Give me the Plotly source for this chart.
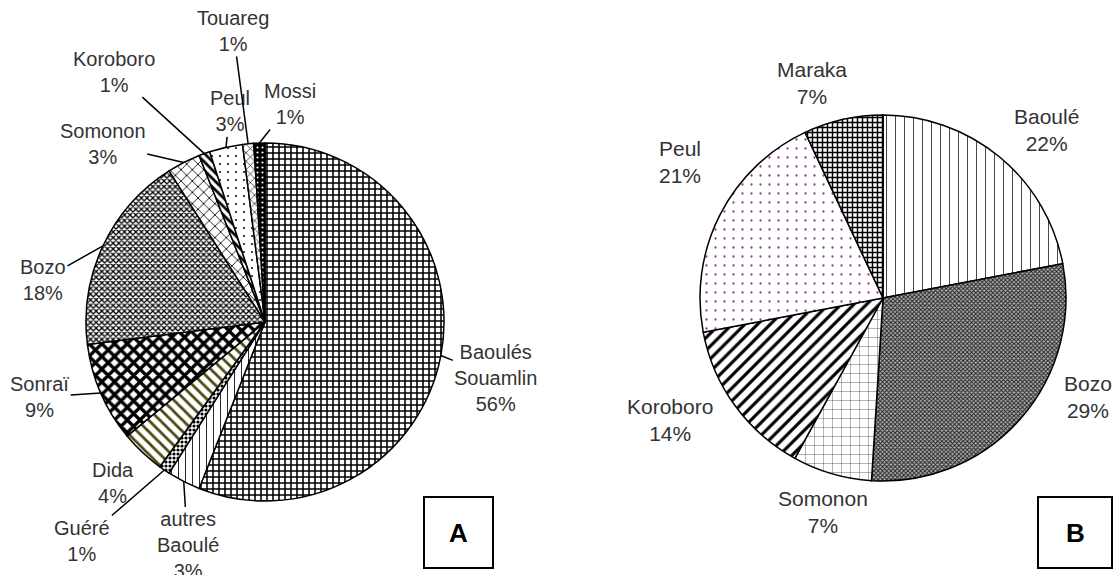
import math
import plotly.graph_objects as go

# ---------- data (percentages) ----------
labels_a = ["Baoulés Souamlin", "autres Baoulé", "Guéré", "Dida", "Sonraï", "Bozo",
            "Somonon", "Koroboro", "Peul", "Touareg", "Mossi"]
values_a = [56, 3, 1, 4, 9, 18, 3, 1, 3, 1, 1]

labels_b = ["Baoulé", "Bozo", "Somonon", "Koroboro", "Peul", "Maraka"]
values_b = [22, 29, 7, 14, 21, 7]

# ---------- geometry (pixels) ----------
W, H = 1120, 575
ca, ra = (265, 322), 179   # pie A centre / radius
cb, rb = (883, 298), 183   # pie B centre / radius


def dom(c, r):
    return dict(x=[(c[0] - r) / W, (c[0] + r) / W],
                y=[1 - (c[1] + r) / H, 1 - (c[1] - r) / H])


def anchor(values, i, c, r):
    # point on the rim at the middle of slice i (clockwise from 12 o'clock)
    mid = (sum(values[:i]) + values[i] / 2) / sum(values) * 2 * math.pi
    return c[0] + r * math.sin(mid), c[1] - r * math.cos(mid)


# hatch styles
pat_a = dict(
    shape=["+", "|", ".", "\\", "x", "x", "x", "\\", ".", "x", "."],
    size=[6, 7, 4, 8, 9, 4, 8, 6, 8, 6, 5],
    solidity=[0.45, 0.12, 0.5, 0.35, 0.6, 0.55, 0.2, 0.45, 0.05, 0.2, 0.15],
    fgcolor=["black", "black", "black", "#4a4a12", "black", "black", "black",
             "black", "black", "black", "white"],
    bgcolor=["white"] * 10 + ["black"],
)
pat_b = dict(
    shape=["|", "x", "+", "/", ".", "+"],
    size=[9, 3, 9, 9, 9, 5],
    solidity=[0.08, 0.55, 0.08, 0.35, 0.05, 0.5],
    fgcolor=["black", "#222222", "#333333", "black", "#993399", "black"],
    bgcolor=["white", "#b0b0b0", "white", "white", "white", "white"],
)

fig = go.Figure()
fig.add_trace(go.Pie(labels=labels_a, values=values_a, domain=dom(ca, ra),
                     sort=False, direction="clockwise", rotation=0,
                     textinfo="none", hoverinfo="label+percent",
                     marker=dict(line=dict(color="black", width=1.5), pattern=pat_a)))
fig.add_trace(go.Pie(labels=labels_b, values=values_b, domain=dom(cb, rb),
                     sort=False, direction="clockwise", rotation=0,
                     textinfo="none", hoverinfo="label+percent",
                     marker=dict(line=dict(color="black", width=1.5), pattern=pat_b)))

fam = "Arial, 'Liberation Sans', sans-serif"
font_a = dict(family=fam, size=20, color="#333333")
font_b = dict(family=fam, size=21, color="#333333")

# label offsets from the rim (pixels) and whether a leader line is drawn
off_a = [(55, 22), (4, 64), (-82, 71), (-29, 31), (-61, 4), (-60, 34),
         (-81, -19), (-90, -82), (4, -36), (-15, -113), (31, -39)]
line_a = [True, True, True, False, True, True, True, True, True, True, True]
off_b = [(47, -27), (68, -22), (-9, 38), (-65, 14), (-40, -53), (-31, -36)]

anns = []
for i, lab in enumerate(labels_a):
    px_, py_ = anchor(values_a, i, ca, ra)
    anns.append(dict(x=px_ / W, y=1 - py_ / H, xref="paper", yref="paper",
                     ax=off_a[i][0], ay=off_a[i][1],
                     text=lab.replace(" ", "<br>") + "<br>%d%%" % values_a[i],
                     showarrow=True, arrowhead=0, arrowwidth=1.5, standoff=0,
                     arrowcolor="black" if line_a[i] else "rgba(0,0,0,0)",
                     font=font_a))
for i, lab in enumerate(labels_b):
    px_, py_ = anchor(values_b, i, cb, rb)
    anns.append(dict(x=px_ / W, y=1 - py_ / H, xref="paper", yref="paper",
                     ax=off_b[i][0], ay=off_b[i][1],
                     text=lab + "<br>%d%%" % values_b[i],
                     showarrow=True, arrowhead=0, arrowcolor="rgba(0,0,0,0)",
                     font=font_b))

# panel letters in boxes
shapes = []
for letter, (x0, x1) in [("A", (424, 493)), ("B", (1038, 1112))]:
    y0, y1 = 497, 568
    shapes.append(dict(type="rect", xref="paper", yref="paper",
                       x0=x0 / W, x1=x1 / W, y0=1 - y1 / H, y1=1 - y0 / H,
                       line=dict(color="black", width=2)))
    anns.append(dict(x=(x0 + x1) / 2 / W, y=1 - (y0 + y1) / 2 / H,
                     xref="paper", yref="paper", text="<b>%s</b>" % letter,
                     xanchor="center", yanchor="middle", showarrow=False,
                     font=dict(family=fam, size=26, color="black")))

fig.update_layout(width=W, height=H, margin=dict(l=0, r=0, t=0, b=0),
                  paper_bgcolor="white", plot_bgcolor="white", showlegend=False,
                  annotations=anns, shapes=shapes)

# drop the default 8px page margin so the figure sits at the window corner
fig.write_html("out.html", config={"displayModeBar": False},
               post_script="document.body.style.margin='0px';")
